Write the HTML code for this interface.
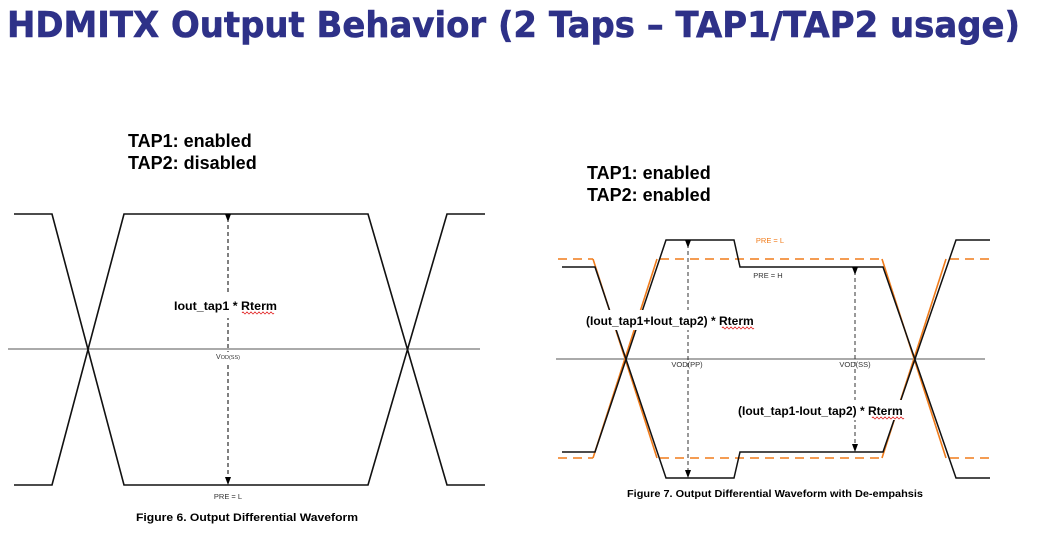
<!DOCTYPE html>
<html><head><meta charset="utf-8"><style>
html,body{margin:0;padding:0;background:#fff;width:1044px;height:554px;overflow:hidden}
svg{display:block}
</style></head><body>
<svg width="1044" height="554" viewBox="0 0 1044 554" xmlns="http://www.w3.org/2000/svg" font-family="Liberation Sans, Arial, sans-serif">
<defs>
<marker id="ah" markerWidth="8" markerHeight="8" refX="4" refY="4" orient="auto" markerUnits="userSpaceOnUse">
<path d="M0,1 L8,4 L0,7 Z" fill="#000"/></marker>
</defs>
<text x="7" y="37" font-family="DejaVu Sans, sans-serif" font-weight="bold" font-size="36" fill="#2e3188" stroke="#2e3188" stroke-width="0.6" textLength="1013" lengthAdjust="spacingAndGlyphs">HDMITX Output Behavior (2 Taps – TAP1/TAP2 usage)</text>

<g font-weight="bold" font-size="18" fill="#000">
<text x="128" y="147">TAP1: enabled</text>
<text x="128" y="169">TAP2: disabled</text>
<text x="587" y="179">TAP1: enabled</text>
<text x="587" y="201">TAP2: enabled</text>
</g>

<!-- Figure 6 -->
<line x1="8" y1="349" x2="480" y2="349" stroke="#555" stroke-width="1"/>
<g fill="none" stroke="#111" stroke-width="1.6">
<polyline points="14,214 52,214 124,485 368,485 447,214 485,214"/>
<polyline points="14,485 52,485 124,214 368,214 447,485 485,485"/>
</g>
<line x1="228" y1="218" x2="228" y2="481" stroke="#000" stroke-width="1" stroke-dasharray="4,3" marker-start="url(#ah)" marker-end="url(#ah)"/>
<rect x="165" y="292" width="115" height="26" fill="#fff"/>
<text x="174" y="310" font-weight="bold" font-size="12" textLength="103" lengthAdjust="spacingAndGlyphs">Iout_tap1 * Rterm</text>
<path d="M242,313 q1,-2 2,0 t2,0 t2,0 t2,0 t2,0 t2,0 t2,0 t2,0 t2,0 t2,0 t2,0 t2,0 t2,0 t2,0 t2,0 t2,0" stroke="#d00" stroke-width="0.7" fill="none"/>
<rect x="215" y="352" width="28" height="10" fill="#fff"/>
<text x="228" y="359" text-anchor="middle" font-size="7" fill="#333">V<tspan font-size="5.5">OD(SS)</tspan></text>
<text x="228" y="499" text-anchor="middle" font-size="7.5" fill="#333">PRE = L</text>
<text x="136" y="521" font-weight="bold" font-size="11" textLength="222" lengthAdjust="spacingAndGlyphs">Figure 6.  Output Differential Waveform</text>

<!-- Figure 7 -->
<line x1="556" y1="359" x2="985" y2="359" stroke="#555" stroke-width="1"/>
<g fill="none" stroke="#f07b1a" stroke-width="1.6" stroke-dasharray="9,6">
<line x1="558" y1="259" x2="593" y2="259"/>
<line x1="660" y1="259" x2="880" y2="259"/>
<line x1="950" y1="259" x2="992" y2="259"/>
<line x1="558" y1="458" x2="593" y2="458"/>
<line x1="660" y1="458" x2="880" y2="458"/>
<line x1="950" y1="458" x2="992" y2="458"/>
</g>
<g fill="none" stroke="#f07b1a" stroke-width="1.6">
<line x1="593" y1="259" x2="657" y2="458"/>
<line x1="593" y1="458" x2="657" y2="259"/>
<line x1="882" y1="259" x2="946" y2="458"/>
<line x1="882" y1="458" x2="946" y2="259"/>
</g>
<g fill="none" stroke="#111" stroke-width="1.5">
<polyline points="562,267 595,267 666,478 734,478 740,452 883,452 956,240 990,240"/>
<polyline points="562,452 595,452 666,240 734,240 740,267 883,267 956,478 990,478"/>
</g>
<line x1="688" y1="244" x2="688" y2="474" stroke="#333" stroke-width="1" stroke-dasharray="4,3" marker-start="url(#ah)" marker-end="url(#ah)"/>
<line x1="855" y1="271" x2="855" y2="448" stroke="#333" stroke-width="1" stroke-dasharray="4,3" marker-start="url(#ah)" marker-end="url(#ah)"/>
<text x="770" y="243" text-anchor="middle" font-size="7.5" fill="#f07b1a">PRE = L</text>
<text x="768" y="278" text-anchor="middle" font-size="7.5" fill="#333">PRE = H</text>
<text x="687" y="367" text-anchor="middle" font-size="7.5" fill="#333">VOD(PP)</text>
<text x="855" y="367" text-anchor="middle" font-size="7.5" fill="#333">VOD(SS)</text>
<rect x="584" y="310" width="176" height="20" fill="#fff"/>
<text x="586" y="325" font-weight="bold" font-size="12">(Iout_tap1+Iout_tap2) * Rterm</text>
<path d="M722,328 q1,-2 2,0 t2,0 t2,0 t2,0 t2,0 t2,0 t2,0 t2,0 t2,0 t2,0 t2,0 t2,0 t2,0 t2,0 t2,0 t2,0" stroke="#d00" stroke-width="0.7" fill="none"/>
<rect x="736" y="400" width="172" height="20" fill="#fff"/>
<text x="738" y="415" font-weight="bold" font-size="12">(Iout_tap1-Iout_tap2) * Rterm</text>
<path d="M872,418 q1,-2 2,0 t2,0 t2,0 t2,0 t2,0 t2,0 t2,0 t2,0 t2,0 t2,0 t2,0 t2,0 t2,0 t2,0 t2,0 t2,0" stroke="#d00" stroke-width="0.7" fill="none"/>
<text x="627" y="497" font-weight="bold" font-size="10.5" textLength="296" lengthAdjust="spacingAndGlyphs">Figure 7.  Output Differential Waveform with De-empahsis</text>
</svg>
</body></html>
